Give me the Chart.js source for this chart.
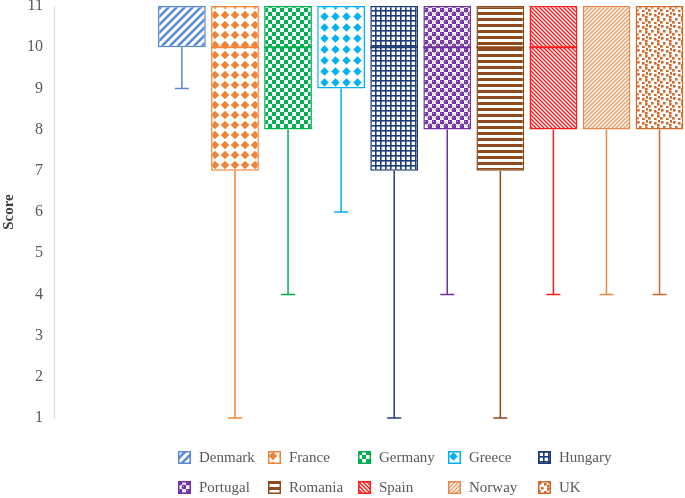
<!DOCTYPE html>
<html>
<head>
<meta charset="utf-8">
<script src="https://cdn.jsdelivr.net/npm/chart.js@4/dist/chart.umd.min.js"></script>
<style>
  body { margin: 0; background: #fff; }
  #wrap { position: relative; width: 685px; height: 498px; }
  #legend { position: absolute; left: 178px; top: 442px; display: grid;
            grid-template-columns: repeat(5, 90px); grid-auto-rows: 30.5px;
            font-family: "Liberation Serif", serif; font-size: 15px; color: #595959; }
  .item { display: flex; align-items: center; }
  .item canvas { width: 13px; height: 13px; margin-right: 8px; }
</style>
</head>
<body>
<div id="wrap">
  <canvas id="chart" width="685" height="498"></canvas>
  <div id="legend"></div>
</div>
<script>
// box plot values
const categories = ['Denmark', 'France', 'Germany', 'Greece', 'Hungary', 'Portugal', 'Romania', 'Spain', 'Norway', 'UK'];
const mins    = [9, 1, 4, 6, 1, 4, 1, 4, 4, 4];
const q1s     = [10, 7, 8, 9, 7, 8, 7, 8, 8, 8];
const medians = [11, 10, 10, 11, 10, 10, 10, 10, 11, 11];
const q3s     = [11, 11, 11, 11, 11, 11, 11, 11, 11, 11];
const yTicks  = [1, 2, 3, 4, 5, 6, 7, 8, 9, 10, 11];

const colors = ['#5A8AD6', '#F0833A', '#00B050', '#00B0F0', '#1F3C78',
                '#7030A0', '#8E4A1C', '#FF1A1A', '#E58A4C', '#D0692A'];

function tile(size, draw) {
  const c = document.createElement('canvas');
  c.width = c.height = size;
  const g = c.getContext('2d');
  g.fillStyle = '#fff';
  g.fillRect(0, 0, size, size);
  draw(g);
  return c;
}
function lines(g, w, segs) {
  g.lineWidth = w;
  g.beginPath();
  segs.forEach(s => { g.moveTo(s[0], s[1]); g.lineTo(s[2], s[3]); });
  g.stroke();
}
function diamond(g, cx, cy, r) {
  g.beginPath();
  g.moveTo(cx, cy - r); g.lineTo(cx + r, cy); g.lineTo(cx, cy + r); g.lineTo(cx - r, cy);
  g.closePath(); g.fill();
}

const tiles = [
  tile(8, g => { g.strokeStyle = colors[0]; lines(g, 2.6, [[-2, 2, 2, -2], [0, 8, 8, 0], [6, 10, 10, 6]]); }),
  tile(10, g => { g.fillStyle = colors[1]; diamond(g, 5, 5, 4.3); }),
  tile(8, g => { g.fillStyle = colors[2]; g.fillRect(0, 0, 4, 4); g.fillRect(4, 4, 4, 4); }),
  tile(11, g => { g.fillStyle = colors[3]; diamond(g, 5.5, 5.5, 4.2); }),
  tile(5, g => { g.fillStyle = colors[4]; g.fillRect(0, 0, 5, 1.6); g.fillRect(0, 0, 1.6, 5); }),
  tile(8, g => {
    g.fillStyle = colors[5];
    [[2, 2], [6, 6]].forEach(p => { g.beginPath(); g.arc(p[0], p[1], 2.4, 0, Math.PI * 2); g.fill(); });
    g.fillStyle = '#C9A8E0';
    g.fillRect(1, 1, 1, 1); g.fillRect(5, 5, 1, 1);
  }),
  tile(6, g => { g.fillStyle = colors[6]; g.fillRect(0, 0, 6, 3); }),
  tile(4, g => { g.strokeStyle = colors[7]; lines(g, 1.4, [[0, 0, 4, 4], [-1, 3, 1, 5], [3, -1, 5, 1]]); }),
  tile(4, g => { g.strokeStyle = '#EB9A62'; lines(g, 1.4, [[-1, 1, 1, -1], [0, 4, 4, 0], [3, 5, 5, 3]]); }),
  tile(12, g => {
    g.fillStyle = colors[9];
    [[1, 1], [6, 2], [3, 6], [9, 7], [0, 9], [6, 10], [10, 0], [9, 4]].forEach(p => g.fillRect(p[0], p[1], 2.6, 2.6));
  })
];

const ctx = document.getElementById('chart').getContext('2d');
const patterns = tiles.map(t => ctx.createPattern(t, 'repeat'));

const boxes = categories.map((c, i) => ({ x: i, y: [q1s[i], q3s[i]] }));

// whiskers and median lines drawn from the data through the y scale
const boxExtras = {
  id: 'boxExtras',
  afterDatasetsDraw(chart) {
    const y = chart.scales.y;
    const meta = chart.getDatasetMeta(0);
    const g = chart.ctx;
    g.save();
    categories.forEach((c, i) => {
      const bar = meta.data[i];
      const x = bar.x, half = bar.width / 2;
      g.strokeStyle = colors[i];
      g.lineWidth = 1.5;
      g.beginPath();
      g.moveTo(x, y.getPixelForValue(q1s[i]));
      g.lineTo(x, y.getPixelForValue(mins[i]));
      g.moveTo(x - 7, y.getPixelForValue(mins[i]));
      g.lineTo(x + 7, y.getPixelForValue(mins[i]));
      g.stroke();
      if (medians[i] > q1s[i] && medians[i] < q3s[i]) {
        g.lineWidth = 2;
        g.beginPath();
        g.moveTo(x - half, y.getPixelForValue(medians[i]));
        g.lineTo(x + half, y.getPixelForValue(medians[i]));
        g.stroke();
      }
    });
    g.restore();
  }
};

new Chart(ctx, {
  type: 'bar',
  data: {
    datasets: [{
      data: boxes,
      backgroundColor: patterns,
      borderColor: colors,
      borderWidth: 1.5,
      borderSkipped: false,
      barPercentage: 0.9,
      categoryPercentage: 1.0
    }]
  },
  options: {
    responsive: false,
    animation: false,
    layout: { padding: { top: 6, right: 0, bottom: 80, left: 0 } },
    plugins: { legend: { display: false }, tooltip: { enabled: false } },
    scales: {
      // two empty slots to the left of Denmark, as in the original
      x: { type: 'linear', display: false, min: -2.41, max: 9.48, offset: false },
      y: {
        min: 1, max: 11,
        afterFit(scale) { scale.width = 54; scale.paddingTop = 0; scale.paddingBottom = 0; },
        afterBuildTicks(scale) { scale.ticks = yTicks.map(v => ({ value: v })); },
        grid: { display: false, drawTicks: false },
        border: { display: true, color: '#D9D9D9', width: 1 },
        ticks: { padding: 11, color: '#595959', font: { family: 'Liberation Serif', size: 16 } },
        title: {
          display: true, text: 'Score', color: '#404040', padding: 0,
          font: { family: 'Liberation Serif', size: 15, weight: 'bold' }
        }
      }
    }
  },
  plugins: [boxExtras]
});

// legend with fixed-width columns
const legend = document.getElementById('legend');
categories.forEach((c, i) => {
  const item = document.createElement('div');
  item.className = 'item';
  const sw = document.createElement('canvas');
  sw.width = sw.height = 13;
  const g = sw.getContext('2d');
  g.fillStyle = g.createPattern(tiles[i], 'repeat');
  g.fillRect(0, 0, 13, 13);
  g.strokeStyle = colors[i];
  g.lineWidth = 1.5;
  g.strokeRect(0.75, 0.75, 11.5, 11.5);
  item.appendChild(sw);
  const t = document.createElement('span');
  t.textContent = c;
  item.appendChild(t);
  legend.appendChild(item);
});
</script>
</body>
</html>
